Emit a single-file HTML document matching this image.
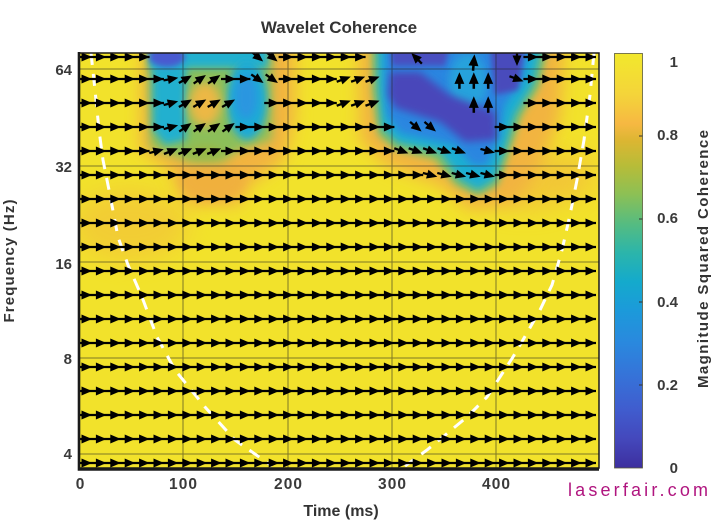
<!DOCTYPE html>
<html><head><meta charset="utf-8"><style>
html,body{margin:0;padding:0;background:#fff;}
svg{display:block;}
text{font-family:"Liberation Sans",Arial,sans-serif;}
</style></head><body>
<svg width="715" height="521" viewBox="0 0 715 521" xmlns="http://www.w3.org/2000/svg">
<defs>
<clipPath id="cp"><rect x="79" y="53" width="520" height="415"/></clipPath>
<filter id="b8" x="-50%" y="-50%" width="200%" height="200%"><feGaussianBlur stdDeviation="8"/></filter>
<filter id="b12" x="-50%" y="-50%" width="200%" height="200%"><feGaussianBlur stdDeviation="12"/></filter>
<filter id="b5" x="-50%" y="-50%" width="200%" height="200%"><feGaussianBlur stdDeviation="5"/></filter>
<filter id="b4" x="-50%" y="-50%" width="200%" height="200%"><feGaussianBlur stdDeviation="4"/></filter>
<filter id="b3" x="-50%" y="-50%" width="200%" height="200%"><feGaussianBlur stdDeviation="3"/></filter>
<linearGradient id="cb" x1="0" y1="0" x2="0" y2="1">
<stop offset="0" stop-color="#f2e82c"/>
<stop offset="0.1" stop-color="#f4d43a"/>
<stop offset="0.17" stop-color="#f6b842"/>
<stop offset="0.21" stop-color="#dcb632"/>
<stop offset="0.27" stop-color="#b8bc38"/>
<stop offset="0.34" stop-color="#8cc055"/>
<stop offset="0.41" stop-color="#56bc80"/>
<stop offset="0.48" stop-color="#2cb5aa"/>
<stop offset="0.55" stop-color="#14aacc"/>
<stop offset="0.62" stop-color="#1c9ada"/>
<stop offset="0.7" stop-color="#2a88de"/>
<stop offset="0.78" stop-color="#3672d8"/>
<stop offset="0.86" stop-color="#405cce"/>
<stop offset="0.93" stop-color="#4448bc"/>
<stop offset="1" stop-color="#3d2f9e"/>
</linearGradient>
<pattern id="pr" x="78" y="67" width="72" height="24" patternUnits="userSpaceOnUse">
<path d="M3.5,7.5L14,12L3.5,16.5ZM17.9,7.5L28.4,12L17.9,16.5ZM32.3,7.5L42.8,12L32.3,16.5ZM46.7,7.5L57.2,12L46.7,16.5ZM61.1,7.5L71.6,12L61.1,16.5Z" fill="#000"/>
</pattern>
<pattern id="p0" x="78" y="45" width="72" height="24" patternUnits="userSpaceOnUse">
<path d="M3.5,7.5L14,12L3.5,16.5ZM17.9,7.5L28.4,12L17.9,16.5ZM32.3,7.5L42.8,12L32.3,16.5ZM46.7,7.5L57.2,12L46.7,16.5ZM61.1,7.5L71.6,12L61.1,16.5Z" fill="#000"/>
</pattern>
<g id="a"><path d="M-8,0H-3" stroke="#000" stroke-width="2.3"/><path d="M-3.5,-4.5L7,0L-3.5,4.5Z" fill="#000"/></g>
</defs>

<!-- Title -->
<text x="339" y="33" font-size="17" font-weight="bold" fill="#333" text-anchor="middle">Wavelet Coherence</text>

<!-- Heatmap -->
<g clip-path="url(#cp)">
<rect x="79" y="53" width="520" height="415" fill="#f2e22b"/>
<!-- faint orange patches -->
<ellipse cx="130" cy="225" rx="58" ry="36" fill="#f2b440" opacity="0.45" filter="url(#b12)"/>
<ellipse cx="525" cy="180" rx="55" ry="30" fill="#f2b440" opacity="0.55" filter="url(#b12)"/>
<ellipse cx="580" cy="175" rx="20" ry="25" fill="#f2b440" opacity="0.35" filter="url(#b12)"/>
<!-- left blob -->
<polygon points="142,40 295,40 295,120 285,160 250,185 240,205 185,205 170,170 140,150" fill="#f2b440" filter="url(#b8)"/>
<ellipse cx="212" cy="180" rx="32" ry="20" fill="#f0b03e" filter="url(#b5)"/>
<polygon points="148,46 272,46 272,140 240,150 222,162 190,162 150,148" fill="#8cbf5a" filter="url(#b5)"/>
<polygon points="152,48 186,48 186,140 165,145 153,130" fill="#22b0cf" filter="url(#b4)"/>
<rect x="150" y="44" width="118" height="24" fill="#22b0cf" filter="url(#b4)"/>
<ellipse cx="247" cy="100" rx="20" ry="40" fill="#1eaad6" filter="url(#b4)"/>
<ellipse cx="246" cy="97" rx="11" ry="22" fill="#2a96e0" filter="url(#b4)"/>
<ellipse cx="205" cy="104" rx="16" ry="22" fill="#ecb845" filter="url(#b5)"/>
<ellipse cx="205" cy="152" rx="18" ry="7" fill="#9ab846" filter="url(#b4)"/>
<ellipse cx="167" cy="57" rx="18" ry="10" fill="#4a5ad0" filter="url(#b3)"/>
<!-- right blob -->
<polygon points="358,40 565,40 560,120 540,165 520,200 470,210 440,185 385,165 360,140" fill="#f2b440" filter="url(#b8)"/>
<polygon points="372,45 548,45 540,85 522,115 510,150 498,185 478,196 455,185 435,160 395,150 378,135 372,90" fill="#7cbf6a" filter="url(#b4)"/>
<polygon points="377,45 542,45 533,85 515,115 505,150 494,180 478,190 460,180 440,152 398,143 382,128 378,90" fill="#1eaed2" filter="url(#b4)"/>
<polygon points="385,48 528,48 522,80 505,105 497,140 487,165 472,165 455,145 400,133 387,115" fill="#2c86e0" filter="url(#b4)"/>
<ellipse cx="468" cy="82" rx="19" ry="28" fill="#28a2dc" filter="url(#b4)"/>
<polygon points="390,72 420,72 450,95 495,112 497,140 465,142 440,122 395,108 388,95" fill="#4a46ba" filter="url(#b4)"/>
<polygon points="390,46 450,46 445,66 392,66" fill="#4a4fc0" filter="url(#b3)"/>
<polygon points="490,46 525,46 518,90 495,95" fill="#4a4cbc" filter="url(#b3)"/>

<!-- grid -->
<g stroke="#222" stroke-width="1" opacity="0.55">
<path d="M79,69H599M79,166H599M79,262H599M79,358H599M79,454H599"/>
<path d="M183,53V468M288,53V468M392,53V468M496,53V468"/>
</g>

<!-- cone of influence -->
<g fill="none" stroke="#fff" stroke-width="3" stroke-dasharray="12 9">
<path d="M91,53 L95,90 L99,130 L103,160 L110,195 L118,237 L128,265 L142,297 L157,337 L175,370 L205,407 L235,440 L272,466"/>
<path d="M594,53 L590,95 L584,140 L577,180 L570,215 L562,250 L552,285 L540,310 L527,333 L513,357 L487,397 L467,417 L427,450 L405,466"/>
</g>

<!-- arrows: straight rows -->
<g stroke="#000" stroke-width="2.3" fill="none">
<path d="M77,57H149.6M278.6,57H365.6M523.4,57H596"/>
<path d="M77,79H164M221,79H250.4M278.6,79H336.8M523.4,79H596"/>
<path d="M77,103H164M264.2,103H336.8M523.4,103H596"/>
<path d="M77,127H164M235.4,127H394.4M494.6,127H596"/>
<path d="M77,151H149.6M221,151H394.4M494.6,151H596"/>
<path d="M77,175H423.2M494.6,175H596"/>
<path d="M77,199H596M77,223H596M77,247H596M77,271H596M77,295H596M77,319H596M77,343H596M77,367H596M77,391H596M77,415H596M77,439H596M77,463H596"/>
</g>
<g>
<rect x="78" y="51" width="72" height="12" fill="url(#p0)"/>
<rect x="279.6" y="51" width="86.4" height="12" fill="url(#p0)"/>
<rect x="524.4" y="51" width="72" height="12" fill="url(#p0)"/>

<rect x="78" y="73" width="86.4" height="12" fill="url(#pr)"/>
<rect x="222" y="73" width="28.8" height="12" fill="url(#pr)"/>
<rect x="279.6" y="73" width="57.6" height="12" fill="url(#pr)"/>
<rect x="524.4" y="73" width="72" height="12" fill="url(#pr)"/>

<rect x="78" y="97" width="86.4" height="12" fill="url(#pr)"/>
<rect x="265.2" y="97" width="72" height="12" fill="url(#pr)"/>
<rect x="524.4" y="97" width="72" height="12" fill="url(#pr)"/>

<rect x="78" y="121" width="86.4" height="12" fill="url(#pr)"/>
<rect x="236.4" y="121" width="158.4" height="12" fill="url(#pr)"/>
<rect x="495.6" y="121" width="100.8" height="12" fill="url(#pr)"/>

<rect x="78" y="145" width="72" height="12" fill="url(#pr)"/>
<rect x="222" y="145" width="172.8" height="12" fill="url(#pr)"/>
<rect x="495.6" y="145" width="100.8" height="12" fill="url(#pr)"/>

<rect x="78" y="169" width="345.6" height="12" fill="url(#pr)"/>
<rect x="495.6" y="169" width="100.8" height="12" fill="url(#pr)"/>

<rect x="78" y="190" width="518.4" height="280" fill="url(#pr)"/>
</g>

<!-- arrows: rotated -->
<use href="#a" transform="translate(257.8,57) rotate(40)"/>
<use href="#a" transform="translate(272.2,57) rotate(40)"/>
<use href="#a" transform="translate(416.2,58) rotate(-135)"/>
<use href="#a" transform="translate(473.8,62) rotate(-85) scale(1.1)"/>
<use href="#a" transform="translate(517,59) rotate(90)"/>

<use href="#a" transform="translate(171.4,79) rotate(-10)"/>
<use href="#a" transform="translate(185.8,79) rotate(-30)"/>
<use href="#a" transform="translate(200.2,79) rotate(-35)"/>
<use href="#a" transform="translate(214.6,79) rotate(-35)"/>
<use href="#a" transform="translate(257.8,79) rotate(35)"/>
<use href="#a" transform="translate(272.2,79) rotate(35)"/>
<use href="#a" transform="translate(344.2,79) rotate(-20)"/>
<use href="#a" transform="translate(358.6,79) rotate(-20)"/>
<use href="#a" transform="translate(373,79) rotate(-20)"/>
<use href="#a" transform="translate(459.4,80) rotate(-90) scale(1.1)"/>
<use href="#a" transform="translate(473.8,80) rotate(-90) scale(1.1)"/>
<use href="#a" transform="translate(488.2,80) rotate(-90) scale(1.1)"/>
<use href="#a" transform="translate(517,79) rotate(20)"/>

<use href="#a" transform="translate(171.4,103) rotate(-15)"/>
<use href="#a" transform="translate(185.8,103) rotate(-30)"/>
<use href="#a" transform="translate(200.2,103) rotate(-30)"/>
<use href="#a" transform="translate(214.6,103) rotate(-30)"/>
<use href="#a" transform="translate(229,103) rotate(-30)"/>
<use href="#a" transform="translate(344.2,103) rotate(-20)"/>
<use href="#a" transform="translate(358.6,103) rotate(-20)"/>
<use href="#a" transform="translate(373,103) rotate(-20)"/>
<use href="#a" transform="translate(473.8,104) rotate(-90) scale(1.1)"/>
<use href="#a" transform="translate(488.2,104) rotate(-90) scale(1.1)"/>

<use href="#a" transform="translate(171.4,127) rotate(-15)"/>
<use href="#a" transform="translate(185.8,127) rotate(-35)"/>
<use href="#a" transform="translate(200.2,127) rotate(-35)"/>
<use href="#a" transform="translate(214.6,127) rotate(-35)"/>
<use href="#a" transform="translate(229,127) rotate(-35)"/>
<use href="#a" transform="translate(416.2,127) rotate(40)"/>
<use href="#a" transform="translate(430.6,127) rotate(40)"/>

<use href="#a" transform="translate(157,151) rotate(-15)"/>
<use href="#a" transform="translate(171.4,151) rotate(-22)"/>
<use href="#a" transform="translate(185.8,151) rotate(-22)"/>
<use href="#a" transform="translate(200.2,151) rotate(-22)"/>
<use href="#a" transform="translate(214.6,151) rotate(-22)"/>
<use href="#a" transform="translate(401.8,151) rotate(20)"/>
<use href="#a" transform="translate(416.2,151) rotate(20)"/>
<use href="#a" transform="translate(430.6,151) rotate(20)"/>
<use href="#a" transform="translate(445,151) rotate(20)"/>
<use href="#a" transform="translate(459.4,151) rotate(20)"/>
<use href="#a" transform="translate(488.2,151) rotate(15)"/>

<use href="#a" transform="translate(430.6,175) rotate(15)"/>
<use href="#a" transform="translate(445,175) rotate(15)"/>
<use href="#a" transform="translate(459.4,175) rotate(15)"/>
<use href="#a" transform="translate(473.8,175) rotate(15)"/>
<use href="#a" transform="translate(488.2,175) rotate(15)"/>
</g>

<!-- axes border -->
<rect x="79" y="53" width="520" height="415" fill="none" stroke="#1a1a1a" stroke-width="1.5"/>
<path d="M79,52V469.5H599" fill="none" stroke="#1a1a1a" stroke-width="2.6"/>

<!-- Y ticks -->
<g font-size="15" font-weight="bold" fill="#3a3a3a" text-anchor="end">
<text x="72" y="75">64</text>
<text x="72" y="172">32</text>
<text x="72" y="269">16</text>
<text x="72" y="364">8</text>
<text x="72" y="459">4</text>
</g>
<!-- X ticks -->
<g font-size="15.5" font-weight="bold" fill="#3a3a3a" text-anchor="middle">
<text x="80" y="489">0</text>
<text x="183" y="489" textLength="28">100</text>
<text x="288" y="489" textLength="28">200</text>
<text x="392" y="489" textLength="28">300</text>
<text x="496" y="489" textLength="28">400</text>
</g>
<text x="341" y="516" font-size="16" font-weight="bold" fill="#333" text-anchor="middle">Time (ms)</text>
<text transform="translate(14,261) rotate(-90)" font-size="15" font-weight="bold" fill="#333" text-anchor="middle" textLength="123">Frequency (Hz)</text>

<!-- Colorbar -->
<rect x="614.5" y="53.5" width="28" height="414.5" fill="url(#cb)" stroke="#5a5a3a" stroke-width="0.8"/>
<g stroke="#333" stroke-width="1">
<path d="M639,136H642.5M639,219H642.5M639,302H642.5M639,385H642.5"/>
</g>
<g font-size="15" font-weight="bold" fill="#3a3a3a" text-anchor="end">
<text x="678" y="67">1</text>
<text x="678" y="140">0.8</text>
<text x="678" y="223">0.6</text>
<text x="678" y="307">0.4</text>
<text x="678" y="390">0.2</text>
<text x="678" y="473">0</text>
</g>
<text transform="translate(708,259) rotate(-90)" font-size="15" font-weight="bold" fill="#333" text-anchor="middle" textLength="258">Magnitude Squared Coherence</text>

<!-- watermark -->
<text x="568" y="496" font-family="'Liberation Mono',monospace" font-size="18" fill="#b0157f" textLength="140">laserfair.com</text>
</svg>
</body></html>
